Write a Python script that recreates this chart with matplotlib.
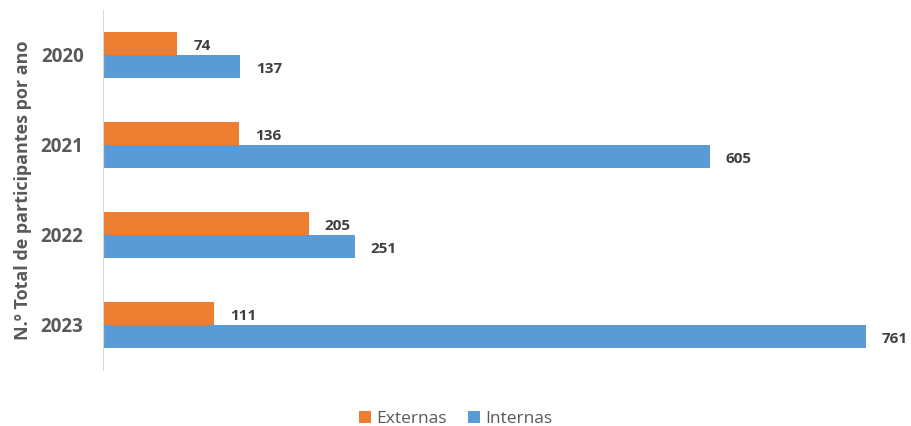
import matplotlib
matplotlib.use("Agg")
import matplotlib.pyplot as plt
import numpy as np

years = ["2020", "2021", "2022", "2023"]
externas = [74, 136, 205, 111]
internas = [137, 605, 251, 761]
series_names = ["Externas", "Internas"]
colors = ["#ED7D31", "#5B9BD5"]

plt.rcParams['font.family'] = ['Open Sans', 'DejaVu Sans']

fig = plt.figure(figsize=(9.11, 4.26), dpi=100)
ax = fig.add_axes([103/911, 1-370/426, (905-103)/911, 360/426])

y = np.arange(len(years))
h = 0.26
b1 = ax.barh(y - h/2, externas, height=h, color=colors[0], label=series_names[0])
b2 = ax.barh(y + h/2, internas, height=h, color=colors[1], label=series_names[1])

for bars, vals in ((b1, externas), (b2, internas)):
    for rect, v in zip(bars, vals):
        ax.text(rect.get_width() + 16, rect.get_y() + rect.get_height()/2 + 0.03, str(v),
                va='center', ha='left', fontsize=11, fontweight='bold', color='#404040')

ax.set_ylim(3.5, -0.5)
ax.set_xlim(0, 800)
ax.set_yticks(y)
ax.set_yticklabels(years, fontsize=13.5, fontweight='bold', color='#595959')
ax.set_xticks([])
ax.tick_params(axis='y', length=0, pad=14)
for s in ('top', 'right', 'bottom'):
    ax.spines[s].set_visible(False)
ax.spines['left'].set_color('#D9D9D9')
ax.set_ylabel("N.º Total de participantes por ano", fontsize=13, fontweight='bold',
              color='#595959', labelpad=6)

fig.legend(handles=[b1, b2], loc='center', bbox_to_anchor=(0.5, 1-419/426), ncol=2,
           frameon=False, fontsize=12.5, handlelength=0.7, handleheight=0.7,
           handletextpad=0.3, columnspacing=1.2, labelcolor='#595959')

fig.savefig("out.png", dpi=100)
